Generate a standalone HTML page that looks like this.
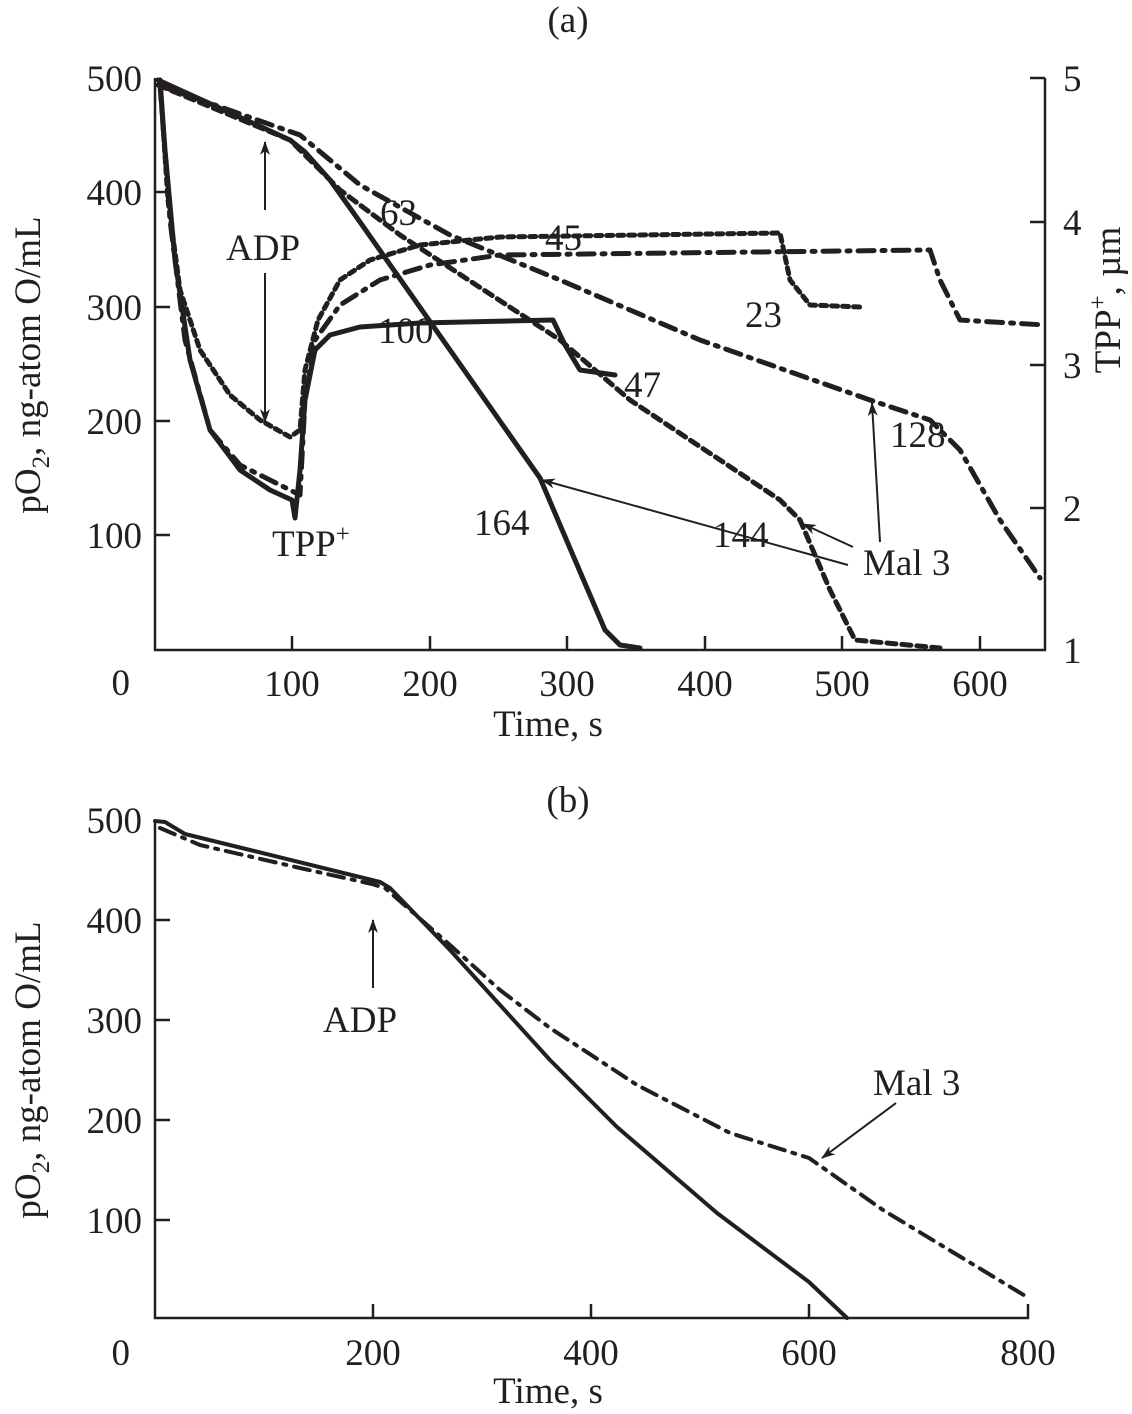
<!DOCTYPE html>
<html><head><meta charset="utf-8"><style>
html,body{margin:0;padding:0;background:#fff}
svg{display:block}
text{font-family:"Liberation Serif",serif;fill:#231f20}
</style></head><body>
<svg width="1132" height="1414" viewBox="0 0 1132 1414" xmlns="http://www.w3.org/2000/svg">
<defs><marker id="ar" markerWidth="14" markerHeight="10" refX="13" refY="5" orient="auto" markerUnits="userSpaceOnUse"><path d="M0,0 L14,5 L0,10 L4,5 Z" fill="#231f20"/></marker></defs>
<g stroke="#231f20" fill="none" stroke-width="2.5">
<path d="M155,78 V650 H1045 V78"/>
<path d="M155,192 h15 M155,307 h15 M155,421 h15 M155,535 h15 M292,650 v-14 M430,650 v-14 M567,650 v-14 M705,650 v-14 M842,650 v-14 M980,650 v-14 M1045,222 h-15 M1045,365 h-15 M1045,508 h-15 M1045,78 h-15"/>
<path d="M155,820 V1318 H1028 v-14"/>
<path d="M155,920 h15 M155,1020 h15 M155,1120 h15 M155,1220 h15 M373,1318 v-14 M591,1318 v-14 M809,1318 v-14"/>
</g>
<g stroke="#231f20" fill="none" stroke-width="5" stroke-linejoin="round" stroke-linecap="round">
<polyline points="158,80 290,140 305,152 330,180 360,222 540,478 575,560 605,630 620,645 640,648"/>
<polyline stroke-dasharray="9,6" points="158,85 290,140 310,160 340,190 400,235 560,340 630,400 780,500 800,520 830,590 855,640 940,648"/>
<polyline stroke-dasharray="16,8,3,8" points="158,85 300,135 360,185 450,235 560,280 700,340 870,400 930,420 960,450 1000,520 1040,578"/>
<polyline points="160,80 165,150 175,260 190,360 210,430 240,470 270,490 292,500 295,518 300,470 305,400 315,350 330,335 360,327 420,323 553,320 565,345 580,370 615,375"/>
<polyline stroke-dasharray="6,5" points="160,80 168,200 180,290 200,350 230,395 260,420 290,437 300,430 305,370 318,320 340,280 370,260 420,245 500,237 780,233 790,280 810,305 860,307"/>
<polyline stroke-dasharray="16,8,3,8" points="160,85 170,220 185,340 210,430 240,465 280,485 300,495 305,400 315,340 340,305 380,280 430,265 500,255 930,250 940,280 960,320 1045,325"/>
<polyline stroke-width="4" points="155,821 165,822 185,834 250,850 380,882 390,888 450,950 500,1005 550,1060 617,1127 717,1213 809,1282 847,1318"/>
<polyline stroke-width="4" stroke-dasharray="16,8,3,8" points="160,828 200,845 300,868 372,884 385,888 450,945 500,990 550,1028 637,1085 730,1133 809,1158 883,1210 1027,1297"/>
</g>
<g stroke="#231f20" stroke-width="2" fill="none">
<line x1="265" y1="210" x2="265" y2="142" marker-end="url(#ar)"/>
<line x1="265" y1="273" x2="265" y2="422" marker-end="url(#ar)"/>
<line x1="848" y1="565" x2="542" y2="480" marker-end="url(#ar)"/>
<line x1="853" y1="547" x2="803" y2="524" marker-end="url(#ar)"/>
<line x1="880" y1="542" x2="872" y2="403" marker-end="url(#ar)"/>
<line x1="373" y1="988" x2="373" y2="920" marker-end="url(#ar)"/>
<line x1="896" y1="1103" x2="822" y2="1158" marker-end="url(#ar)"/>
</g>
<g font-size="37">
<text x="568" y="32" text-anchor="middle">(a)</text>
<text x="568" y="812" text-anchor="middle">(b)</text>
<g text-anchor="end">
<text x="142" y="91">500</text><text x="142" y="205">400</text><text x="142" y="320">300</text><text x="142" y="434">200</text><text x="142" y="548">100</text><text x="130" y="695">0</text>
<text x="142" y="833">500</text><text x="142" y="933">400</text><text x="142" y="1033">300</text><text x="142" y="1133">200</text><text x="142" y="1233">100</text><text x="130" y="1365">0</text>
</g>
<g text-anchor="middle">
<text x="292" y="696">100</text><text x="430" y="696">200</text><text x="567" y="696">300</text><text x="705" y="696">400</text><text x="842" y="696">500</text><text x="980" y="696">600</text>
<text x="373" y="1365">200</text><text x="591" y="1365">400</text><text x="809" y="1365">600</text><text x="1028" y="1365">800</text>
<text x="548" y="736">Time, s</text><text x="548" y="1403">Time, s</text>
</g>
<g>
<text x="1063" y="91">5</text><text x="1063" y="235">4</text><text x="1063" y="378">3</text><text x="1063" y="521">2</text><text x="1063" y="663">1</text>
</g>
<text transform="translate(40,365) rotate(-90)" text-anchor="middle">pO<tspan font-size="25" dy="9">2</tspan><tspan dy="-9">, ng-atom O/mL</tspan></text>
<text transform="translate(40,1070) rotate(-90)" text-anchor="middle">pO<tspan font-size="25" dy="9">2</tspan><tspan dy="-9">, ng-atom O/mL</tspan></text>
<text transform="translate(1120,300) rotate(-90)" text-anchor="middle">TPP<tspan font-size="25" dy="-14">+</tspan><tspan dy="14">, µm</tspan></text>
<text x="226" y="260">ADP</text>
<text x="272" y="556">TPP<tspan font-size="25" dy="-14">+</tspan></text>
<text x="380" y="225">63</text>
<text x="545" y="250">45</text>
<text x="745" y="327">23</text>
<text x="378" y="343">100</text>
<text x="624" y="397">47</text>
<text x="890" y="447">128</text>
<text x="474" y="535">164</text>
<text x="713" y="547">144</text>
<text x="863" y="575">Mal 3</text>
<text x="323" y="1032">ADP</text>
<text x="873" y="1095">Mal 3</text>
</g>
</svg>
</body></html>
